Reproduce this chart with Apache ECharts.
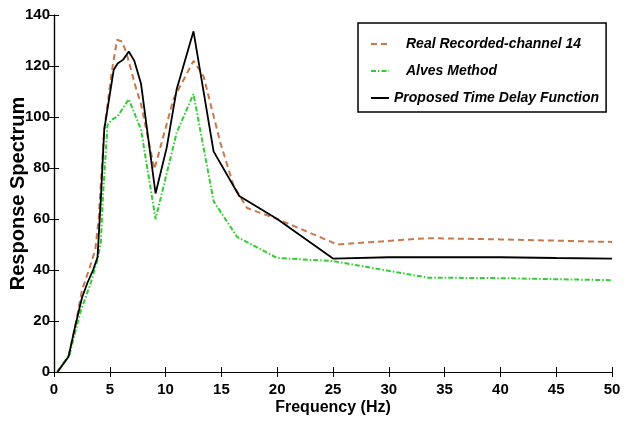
<!DOCTYPE html>
<html>
<head>
<meta charset="utf-8">
<script src="https://cdn.jsdelivr.net/npm/echarts@6/dist/echarts.min.js"></script>
<style>
html,body{margin:0;padding:0;background:#fff;}
#chart{width:629px;height:421px;}
</style>
</head>
<body>
<div id="chart"></div>
<script>
var seriesNames = ['Real Recorded-channel 14', 'Alves Method', 'Proposed Time Delay Function'];

var realFreq = [0.3, 1.3, 2.0, 2.5, 3.2, 3.7, 4.0, 4.5, 5.2, 5.65, 6.1, 6.5, 7.3, 7.8, 9.0, 10.7, 12.5, 13.4, 14.9, 16.1, 17.3, 20, 25.4, 33.5, 40, 50];
var realVal  = [0, 6, 20, 32, 41, 48, 60, 95, 118.5, 130.3, 129.6, 125, 112, 105, 79.5, 107, 122, 116, 90, 73, 64.3, 60, 50, 52.5, 52, 51];

var alvesFreq = [0.3, 1.4, 1.8, 2.4, 3.3, 3.9, 4.2, 4.4, 4.8, 5.2, 5.7, 6.7, 7.8, 9.1, 11.0, 12.5, 14.3, 16.4, 20, 25, 33.5, 40, 50];
var alvesVal  = [0, 7, 14, 24, 35, 44, 51, 70, 97, 99, 100.3, 107, 95, 60, 94, 109, 67, 53, 44.7, 43.5, 37, 36.8, 36];

var propFreq = [0.3, 1.3, 1.9, 2.5, 3.0, 3.5, 3.9, 4.2, 4.5, 5.35, 5.7, 6.2, 6.7, 7.2, 7.8, 9.1, 10.1, 11.0, 12.5, 14.3, 16.6, 20, 25, 30, 40, 45, 50];
var propVal  = [0, 6, 18, 29, 35, 40, 45, 68, 95, 118.5, 121, 122.5, 125.7, 122, 113, 70, 88, 111, 133.6, 86.5, 69, 60, 44.5, 45, 45, 44.7, 44.5];

function pairs(xs, ys){ return xs.map(function(x,i){ return [x, ys[i]]; }); }

var FONT = '"Liberation Sans", Arial, Helvetica, sans-serif';
var chart = echarts.init(document.getElementById('chart'), null, {renderer:'canvas'});

var tickLabel = {color:'#000', fontFamily:FONT, fontWeight:'bold', fontSize:15};

chart.setOption({
  animation:false,
  backgroundColor:'#fff',
  grid:{left:54, right:17, top:15, bottom:49, containLabel:false, outerBoundsMode:'none'},
  legend:{
    orient:'vertical', left:358, top:23,
    padding:[13,7,6,12],
    itemGap:11, itemWidth:18, itemHeight:16,
    backgroundColor:'#fff', borderColor:'#000', borderWidth:1.5, borderRadius:0,
    itemStyle:{opacity:0},
    textStyle:{color:'#000', fontFamily:FONT, fontWeight:'bold', fontStyle:'italic', fontSize:14, lineHeight:16},
    data:[
      {name:seriesNames[0], textStyle:{padding:[0,0,0,12]}},
      {name:seriesNames[1], textStyle:{padding:[0,0,0,12]}},
      {name:seriesNames[2]}
    ]
  },
  xAxis:[{
    type:'value', min:0, max:50, interval:5,
    name:'Frequency (Hz)', nameLocation:'middle', nameGap:28, nameMoveOverlap:false,
    nameTextStyle:{color:'#000', fontFamily:FONT, fontWeight:'bold', fontSize:16},
    axisLine:{show:true, lineStyle:{color:'#000', width:1.2}},
    axisTick:{show:true, inside:true, length:5, lineStyle:{color:'#000'}},
    axisLabel:Object.assign({margin:10}, tickLabel),
    splitLine:{show:false}
  },{
    type:'value', min:0, max:50, interval:5, position:'top',
    axisLine:{show:true, lineStyle:{color:'#000', width:1.2}},
    axisTick:{show:true, inside:true, length:5, lineStyle:{color:'#000'}},
    axisLabel:{show:false}, splitLine:{show:false}
  }],
  yAxis:[{
    type:'value', min:0, max:140, interval:20,
    name:'Response Spectrum', nameLocation:'middle', nameGap:26, nameRotate:90, nameMoveOverlap:false,
    nameTextStyle:{color:'#000', fontFamily:FONT, fontWeight:'bold', fontSize:20},
    axisLine:{show:true, lineStyle:{color:'#000', width:1.2}},
    axisTick:{show:true, inside:true, length:5, lineStyle:{color:'#000'}},
    axisLabel:Object.assign({margin:4}, tickLabel),
    splitLine:{show:false}
  },{
    type:'value', min:0, max:140, interval:20, position:'right',
    axisLine:{show:true, lineStyle:{color:'#000', width:1.2}},
    axisTick:{show:true, inside:true, length:5, lineStyle:{color:'#000'}},
    axisLabel:{show:false}, splitLine:{show:false}
  }],
  series:[{
    name:seriesNames[0], type:'line', data:pairs(realFreq, realVal),
    symbol:'none', showSymbol:false,
    itemStyle:{color:'#c8784a'},
    lineStyle:{color:'#c8784a', width:2, type:[6,4]}
  },{
    name:seriesNames[1], type:'line', data:pairs(alvesFreq, alvesVal),
    symbol:'none', showSymbol:false,
    itemStyle:{color:'#33cc33'},
    lineStyle:{color:'#33cc33', width:2, type:[5,2,1.5,2]}
  },{
    name:seriesNames[2], type:'line', data:pairs(propFreq, propVal),
    symbol:'none', showSymbol:false,
    itemStyle:{color:'#000'},
    lineStyle:{color:'#000', width:1.8, type:'solid'}
  }]
});
</script>
</body>
</html>
